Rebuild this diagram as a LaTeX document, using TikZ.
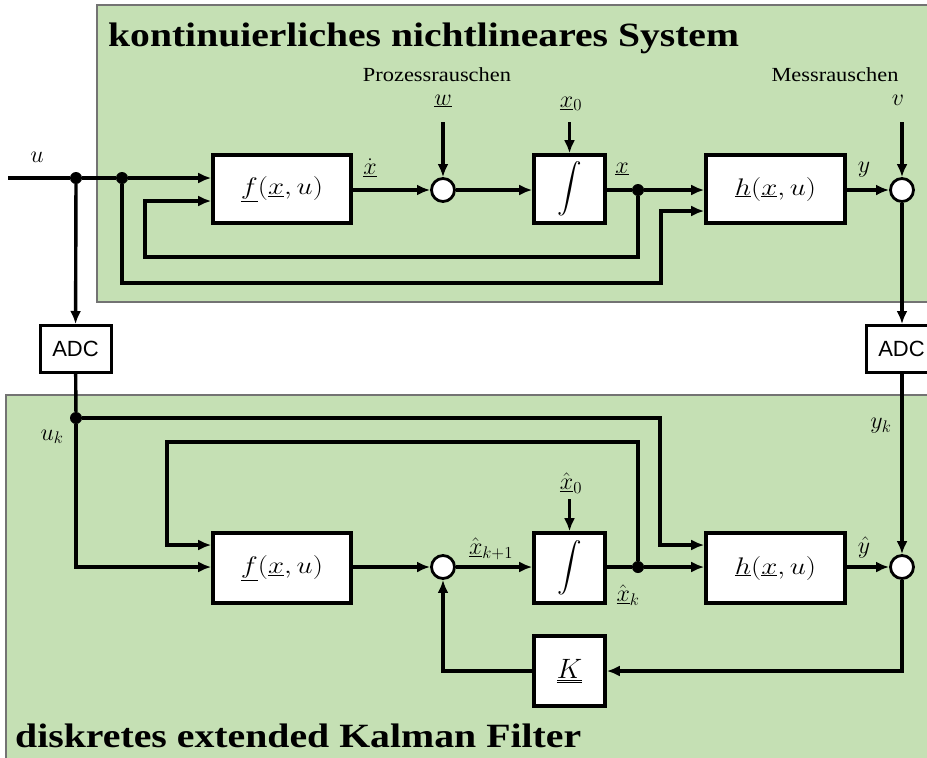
\RequirePackage{fix-cm}
\documentclass[tikz,border=0pt]{standalone}
\usepackage{fontspec}
\setmainfont{Liberation Serif}
\newfontfamily\adcfont{Liberation Sans}
\usetikzlibrary{arrows.meta}
\newcommand{\vu}[1]{\underline{#1}}
\newcommand{\mm}[1]{\underline{\underline{#1}}}
\newcommand{\bigint}{\resizebox{!}{42pt}{$\displaystyle\int$}}
\definecolor{grfill}{HTML}{C5E0B4}
\begin{document}
\begin{tikzpicture}[x=1pt,y=-1pt,
  block/.style={draw, line width=3.6pt, fill=white, inner sep=0pt},
  sumc/.style={draw, circle, line width=2.8pt, fill=white, minimum size=23pt, inner sep=0pt},
  adcbox/.style={draw, line width=3pt, fill=white, minimum width=71pt, minimum height=47pt, inner sep=0pt, font=\adcfont\fontsize{22}{26}\selectfont},
  sig/.style={line width=3.4pt, -{Latex[length=13pt,width=11pt]}},
  wire/.style={line width=3.4pt},
  dot/.style={circle, fill=black, inner sep=0pt, minimum size=12pt},
  lbl/.style={font=\fontsize{24}{28}\selectfont, inner sep=0pt},
  small/.style={font=\fontsize{20}{24}\selectfont, inner sep=0pt},
  title/.style={font=\bfseries\fontsize{34}{38}\selectfont, inner sep=0pt, anchor=base west},
  boxtext/.style={font=\fontsize{24}{28}\selectfont}
]
\useasboundingbox (0,0) rectangle (927,758);
\clip (0,0) rectangle (927,758);
% frames
\draw[draw=black!55, line width=1.6pt, fill=grfill] (97,5) rectangle (940,302);
\draw[draw=black!55, line width=1.6pt, fill=grfill] (6,395) rectangle (940,770);
\node[title] (t1) at (108,46) {\scalebox{1.165}[1]{kontinuierliches nichtlineares System}};
\node[title] (t2) at (15,747) {\scalebox{1.17}[1]{diskretes extended Kalman Filter}};
% top blocks
\node[block, minimum width=138pt, minimum height=68pt, boxtext] (f1) at (282,189) {\scalebox{1.2}[1]{$\vu{f}(\vu{x},u)$}};
\node[sumc] (s1) at (443,190) {};
\node[block, minimum width=71pt, minimum height=68pt, boxtext] (i1) at (569.5,189) {\bigint};
\node[block, minimum width=139pt, minimum height=68pt, boxtext] (h1) at (775.5,189) {\scalebox{1.2}[1]{$\vu{h}(\vu{x},u)$}};
\node[sumc] (s2) at (902,190) {};
\node[adcbox] (a1) at (75.5,349) {ADC};
\node[adcbox] (a2) at (901.5,349) {ADC};
% bottom blocks
\node[block, minimum width=138pt, minimum height=70pt, boxtext] (f2) at (282,568) {\scalebox{1.2}[1]{$\vu{f}(\vu{x},u)$}};
\node[sumc] (s3) at (443,567) {};
\node[block, minimum width=71pt, minimum height=70pt, boxtext] (i2) at (569.5,568) {\bigint};
\node[block, minimum width=139pt, minimum height=70pt, boxtext] (h2) at (775.5,568) {\scalebox{1.2}[1]{$\vu{h}(\vu{x},u)$}};
\node[sumc] (s4) at (902,567) {};
\node[block, minimum width=71pt, minimum height=70pt, boxtext] (K) at (569.5,671) {\fontsize{28}{32}\selectfont$\mm{K}$};
% junctions and free ends
\coordinate (uin) at (8,178);
\node[dot] (j1) at (76,178) {};
\node[dot] (j2) at (122,178) {};
\node[dot] (jx) at (638,190) {};
\node[dot] (juk) at (76,418) {};
\node[dot] (jxk) at (638,567) {};
\coordinate (wst) at (443,122);
\coordinate (vst) at (902,122);
\coordinate (x0st) at (569.5,122);
\coordinate (xh0st) at (569.5,499);
% top wires
\draw[wire] (uin) -- (j1) -- (j2);
\draw[sig] (j2) -- (f1.west |- j2);
\draw[sig] (jx) |- (145,257) |- (f1.west |- 0,201);
\draw[sig] (j2) |- (661,283) |- (h1.west |- 0,211);
\draw[sig] (f1.east |- s1) -- (s1);
\draw[sig] (s1) -- (i1.west |- s1);
\draw[wire] (i1.east |- jx) -- (jx);
\draw[sig] (jx) -- (h1.west |- jx);
\draw[sig] (h1.east |- s2) -- (s2);
\draw[sig] (wst) -- (s1);
\draw[sig] (vst) -- (s2);
\draw[sig] (x0st) -- (i1);
\draw[sig] (j1) -- (a1);
\draw[sig] (s2) -- (a2.north -| s2);
% bottom wires
\draw[wire] (a1) -- (juk);
\draw[sig] (juk) -| (660,545) -- (h2.west |- 0,545);
\draw[sig] (juk) |- (f2.west |- 0,567);
\draw[sig] (jxk) |- (167,442) |- (f2.west |- 0,545);
\draw[sig] (f2.east |- s3) -- (s3);
\draw[sig] (s3) -- (i2.west |- s3);
\draw[wire] (i2.east |- jxk) -- (jxk);
\draw[sig] (jxk) -- (h2.west |- jxk);
\draw[sig] (h2.east |- s4) -- (s4);
\draw[sig] (a2.south -| s4) -- (s4);
\draw[sig] (xh0st) -- (i2);
\draw[sig] (s4) |- (K);
\draw[sig] (K) -| (s3);
% labels
\node[lbl] (lu) at (37,157) {$u$};
\node[lbl] (lxd) at (370,168) {$\dot{\vu{x}}$};
\node[lbl] (lw) at (443,101) {$\vu{w}$};
\node[lbl] (lx0) at (571,104) {$\vu{x}_0$};
\node[lbl] (lx) at (622,169) {$\vu{x}$};
\node[lbl] (ly) at (864,170) {$y$};
\node[lbl] (lv) at (898,100) {$v$};
\node[small] (pr) at (437,75) {\scalebox{1.12}[1]{Prozessrauschen}};
\node[small] (mr) at (835,75) {\scalebox{1.12}[1]{Messrauschen}};
\node[lbl] (luk) at (52,437) {$u_k$};
\node[lbl] (lyk) at (881,426) {$y_k$};
\node[lbl] (lxk1) at (491,549) {$\hat{\vu{x}}_{k+1}$};
\node[lbl] (lxh0) at (571,483) {$\hat{\vu{x}}_0$};
\node[lbl] (lxk) at (628,595) {$\hat{\vu{x}}_k$};
\node[lbl] (lyh) at (864,547) {$\hat{y}$};
\end{tikzpicture}
\end{document}
